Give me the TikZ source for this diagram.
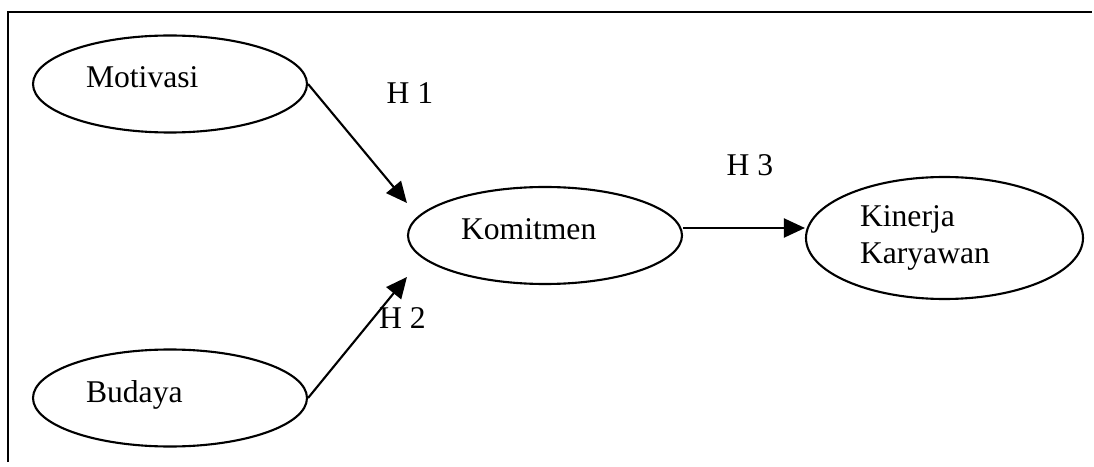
\documentclass[tikz,border=0pt]{standalone}
\usepackage{fontspec}
\setmainfont{Liberation Serif}
\usetikzlibrary{shapes.geometric,arrows.meta,calc}
\tikzstyle{latent} = [ellipse, draw, minimum width=5.48cm, minimum height=1.94cm, text width=3.36cm, align=left, text height=0.5cm, text depth=0.34cm]
\tikzstyle{latentbig} = [ellipse, draw, minimum width=5.54cm, minimum height=2.44cm, text width=3.38cm, align=left]

\begin{document}
\begin{tikzpicture}[->,>={Triangle[length=4.2mm,width=3.8mm]},line width=1.2pt,font=\fontsize{18}{21.5}\selectfont]
  \useasboundingbox (0,0) rectangle (21.88,9.32);
  \draw[-] (0.16,0.08) -- (0.16,9.08) -- (21.84,9.08);

  \node[latent] (Mot) at (3.4,7.64) {Motivasi};
  \node[latent] (Bud) at (3.4,1.36) {Budaya};
  \node[latent] (Kom) at (10.9,4.61) {Komitmen};
  \node[latentbig] (Kin) at (18.89,4.56) {Kinerja\\Karyawan};

  \coordinate (Kom_top) at ($(Kom.west)+(0,0.65)$);
  \coordinate (Kom_bottom) at ($(Kom.west)+(0,-0.83)$);
  \coordinate (Kom_right) at ([yshift=1.5mm]Kom.east);

  \node (H_1) at (8.2,7.46) {H 1};
  \node (H_2) at (8.05,2.96) {H 2};
  \node (H_3) at (15.0,6.02) {H 3};

  \path (Mot.east) edge (Kom_top);
  \path (Bud.east) edge (Kom_bottom);
  \path (Kom_right) edge (Kom_right -| Kin.west);
\end{tikzpicture}
\end{document}
